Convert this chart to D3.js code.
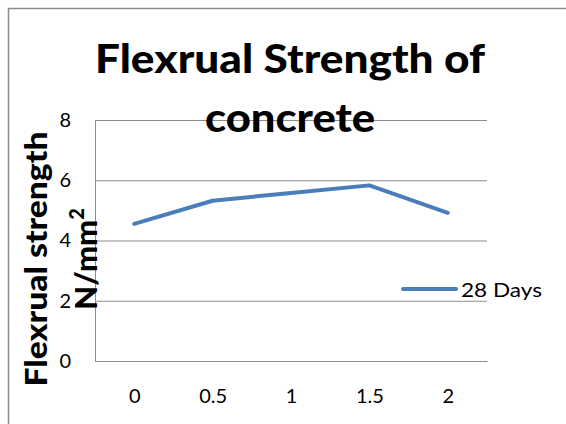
<!DOCTYPE html>
<html>
<head>
<meta charset="utf-8">
<script src="https://cdn.jsdelivr.net/npm/d3@7"></script>
<style>
  html, body { margin: 0; padding: 0; overflow: hidden; background: #fff; }
  svg { display: block; font-family: Lato, 'Open Sans', sans-serif; }
</style>
</head>
<body>
<div id="vis"></div>
<script>
var w = 566;
var h = 424;

// chart data
var categories = ['0', '0.5', '1', '1.5', '2'];
var strength28 = [4.55, 5.32, 5.58, 5.83, 4.92];
var yTicks = [0, 2, 4, 6, 8];
var seriesName = '28 Days';
var titleLines = ['Flexrual Strength of', 'concrete'];
var titleWidths = [390, 170];
var yTitleLines = ['Flexrual strength', 'N/mm'];

var plot = { left: 95, right: 487, top: 120, bottom: 361 };

var svg = d3.select('#vis')
  .append('svg')
    .attr('width', w)
    .attr('height', h);

// outer chart frame: only top and left edges are inside the picture
svg.append('path')
  .attr('d', 'M8.5,' + h + 'V8.5H' + w)
  .style('fill', 'none')
  .style('stroke', '#8c8c8c')
  .style('stroke-width', 1.5);

var x = d3.scalePoint()
  .domain(categories)
  .range([plot.left, plot.right])
  .padding(0.5);

var y = d3.scaleLinear()
  .domain([0, 8])
  .range([plot.bottom, plot.top]);

// y axis with gridlines
var yAxis = svg.append('g')
  .attr('transform', 'translate(' + plot.left + ',0)')
  .call(d3.axisLeft(y)
    .tickValues(yTicks)
    .tickSize(-(plot.right - plot.left))
    .tickSizeOuter(0)
    .tickPadding(24));

yAxis.selectAll('line').style('stroke', '#8c8c8c');
yAxis.select('.domain').style('stroke', '#8c8c8c');
yAxis.selectAll('text')
  .style('font-family', 'Lato, sans-serif')
  .style('font-size', '20px')
  .style('fill', '#000');

// x axis
var xAxis = svg.append('g')
  .attr('transform', 'translate(0,' + plot.bottom + ')')
  .call(d3.axisBottom(x)
    .tickSize(0)
    .tickSizeOuter(0)
    .tickPadding(28));

xAxis.select('.domain').style('stroke', '#8c8c8c');
xAxis.selectAll('text')
  .style('font-family', 'Lato, sans-serif')
  .style('font-size', '20px')
  .style('fill', '#000');

// series line
var line = d3.line()
  .x(function(d, i) { return x(categories[i]); })
  .y(function(d) { return y(d); });

svg.append('path')
  .datum(strength28)
  .attr('d', line)
  .style('fill', 'none')
  .style('stroke', '#4a7ebb')
  .style('stroke-width', 4)
  .style('stroke-linecap', 'round')
  .style('stroke-linejoin', 'round');

// legend
svg.append('line')
  .attr('x1', 403)
  .attr('x2', 456)
  .attr('y1', 289)
  .attr('y2', 289)
  .style('stroke', '#4a7ebb')
  .style('stroke-width', 4)
  .style('stroke-linecap', 'round');

svg.append('text')
  .attr('x', 461)
  .attr('y', 297)
  .attr('textLength', 81)
  .attr('lengthAdjust', 'spacingAndGlyphs')
  .style('font-size', '20px')
  .text(seriesName);

// chart title
svg.selectAll('.title')
  .data(titleLines)
  .enter()
  .append('text')
    .attr('class', 'title')
    .attr('x', 290)
    .attr('y', function(d, i) { return 73 + i * 59; })
    .attr('text-anchor', 'middle')
    .attr('textLength', function(d, i) { return titleWidths[i]; })
    .attr('lengthAdjust', 'spacingAndGlyphs')
    .style('font-size', '40px')
    .style('font-weight', 900)
    .text(function(d) { return d; });

// y axis title
var yTitle = svg.append('g')
  .attr('transform', 'translate(47,259) rotate(-90)');

yTitle.append('text')
  .attr('text-anchor', 'middle')
  .attr('textLength', 255)
  .attr('lengthAdjust', 'spacingAndGlyphs')
  .style('font-size', '31px')
  .style('font-weight', 900)
  .text(yTitleLines[0]);

var t2 = yTitle.append('text')
  .attr('y', 50)
  .attr('text-anchor', 'middle')
  .style('font-size', '31px')
  .style('font-weight', 900);
t2.append('tspan').text(yTitleLines[1]);
t2.append('tspan')
  .attr('dy', -13)
  .style('font-size', '20px')
  .text('2');
</script>
</body>
</html>
